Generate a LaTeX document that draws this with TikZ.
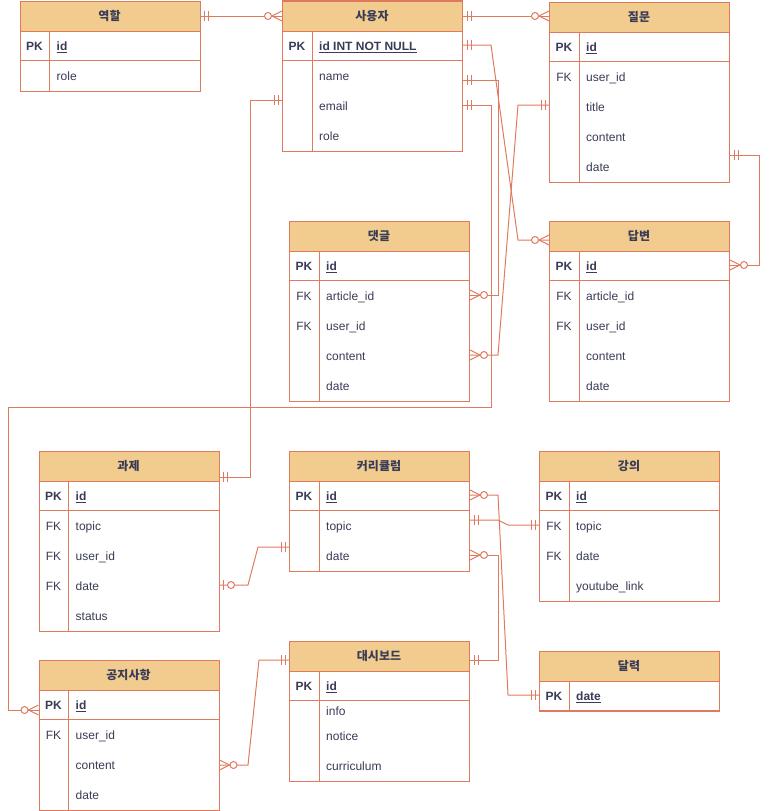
\documentclass[tikz,border=0pt]{standalone}
\usepackage{fontspec}
\setmainfont{Liberation Sans}
\newfontfamily\krfont{Noto Sans CJK KR}
\definecolor{erline}{HTML}{E07A5F}
\definecolor{erfill}{HTML}{F2CC8F}
\definecolor{ertext}{HTML}{393C56}
\newcommand\ertable[5]{%
  \node[bodybox, minimum height=#4pt] (#1) at (#2,#3) {};
  \node[hdr] (#1-h) at (#2,#3) {};
  \node[ttl] (#1-t) at (#2+90,#3+20) {#5};
  \draw[sepline] (#2,#3+60) -- (#2+180,#3+60);
  \draw[sepline] (#2+30,#3+30) -- (#2+30,#3+#4);
}
\newcommand\errow[5]{%
  \node[keytxt] (#1k) at (#2+15,#3+5) {#4};
  \node[fldtxt] (#1f) at (#2+37,#3+5) {#5};
}
\newcommand\pkid[1]{\textbf{\underline{#1}}}
\begin{document}
\begin{tikzpicture}[x=1pt,y=-1pt,
  hdr/.style={draw=erline, fill=erfill, line width=1pt, minimum width=180pt, minimum height=30pt, inner sep=0pt, anchor=north west},
  bodybox/.style={draw=erline, fill=white, line width=1pt, minimum width=180pt, inner sep=0pt, anchor=north west},
  ttl/.style={text=ertext, font=\krfont\bfseries\fontsize{12}{14}\selectfont, inner sep=0pt, anchor=base},
  keytxt/.style={text=ertext, font=\fontsize{12}{14}\selectfont, inner sep=0pt, anchor=base},
  fldtxt/.style={text=ertext, font=\fontsize{12}{14}\selectfont, inner sep=0pt, anchor=base west},
  sepline/.style={draw=erline, line width=1pt},
  conn/.style={draw=erline, line width=1pt},
  mone/.pic={\draw[conn] (4,-5)--(4,5) (8,-5)--(8,5);},
  zmany/.pic={\draw[conn] (0,-5)--(10,0)--(0,5); \draw[conn, fill=white] (14,0) circle (3.5pt);},
  zone/.pic={\draw[conn] (4,-5)--(4,5); \draw[conn, fill=white] (11.5,0) circle (3.5pt);}
]
\useasboundingbox (0,0) rectangle (769,811);

% ---------- tables ----------
\ertable{role}{19.5}{0.5}{90}{역할}
\errow{role1}{19.5}{45.5}{\textbf{PK}}{\pkid{id}}
\errow{role2}{19.5}{75.5}{}{role}

\ertable{user}{282}{0.5}{150}{사용자}
\errow{user1}{282}{45.5}{\textbf{PK}}{\pkid{id INT NOT NULL}}
\errow{user2}{282}{75.5}{}{name}
\errow{user3}{282}{105.5}{}{email}
\errow{user4}{282}{135.5}{}{role}

\ertable{question}{549}{1.5}{180}{질문}
\errow{question1}{549}{46.5}{\textbf{PK}}{\pkid{id}}
\errow{question2}{549}{76.5}{FK}{user\_id}
\errow{question3}{549}{106.5}{}{title}
\errow{question4}{549}{136.5}{}{content}
\errow{question5}{549}{166.5}{}{date}

\ertable{comment}{289}{220.5}{180}{댓글}
\errow{comment1}{289}{265.5}{\textbf{PK}}{\pkid{id}}
\errow{comment2}{289}{295.5}{FK}{article\_id}
\errow{comment3}{289}{325.5}{FK}{user\_id}
\errow{comment4}{289}{355.5}{}{content}
\errow{comment5}{289}{385.5}{}{date}

\ertable{answer}{549}{220.5}{180}{답변}
\errow{answer1}{549}{265.5}{\textbf{PK}}{\pkid{id}}
\errow{answer2}{549}{295.5}{FK}{article\_id}
\errow{answer3}{549}{325.5}{FK}{user\_id}
\errow{answer4}{549}{355.5}{}{content}
\errow{answer5}{549}{385.5}{}{date}

\ertable{task}{38.5}{450.5}{180}{과제}
\errow{task1}{38.5}{495.5}{\textbf{PK}}{\pkid{id}}
\errow{task2}{38.5}{525.5}{FK}{topic}
\errow{task3}{38.5}{555.5}{FK}{user\_id}
\errow{task4}{38.5}{585.5}{FK}{date}
\errow{task5}{38.5}{615.5}{}{status}

\ertable{curr}{289}{450.5}{120}{커리큘럼}
\errow{curr1}{289}{495.5}{\textbf{PK}}{\pkid{id}}
\errow{curr2}{289}{525.5}{}{topic}
\errow{curr3}{289}{555.5}{}{date}

\ertable{lecture}{539}{450.5}{150}{강의}
\errow{lecture1}{539}{495.5}{\textbf{PK}}{\pkid{id}}
\errow{lecture2}{539}{525.5}{FK}{topic}
\errow{lecture3}{539}{555.5}{FK}{date}
\errow{lecture4}{539}{585.5}{}{youtube\_link}

\ertable{cal}{539}{650.5}{60}{달력}
\errow{cal1}{539}{695.5}{\textbf{PK}}{\pkid{date}}

\ertable{dash}{289}{640.5}{140}{대시보드}
\errow{dash1}{289}{685.5}{\textbf{PK}}{\pkid{id}}
\errow{dash2}{289}{710}{}{info}
\errow{dash3}{289}{735}{}{notice}
\errow{dash4}{289}{765}{}{curriculum}

\ertable{notice}{38.5}{659.5}{150}{공지사항}
\errow{notice1}{38.5}{704.5}{\textbf{PK}}{\pkid{id}}
\errow{notice2}{38.5}{734.5}{FK}{user\_id}
\errow{notice3}{38.5}{764.5}{}{content}
\errow{notice4}{38.5}{794.5}{}{date}

% ---------- connector end points ----------
\coordinate (e1a) at (role-h.east);
\coordinate (e1b) at (user-h.west);
\coordinate (e2a) at (user-h.east);
\coordinate (e2b) at (user-h.east -| question-h.west);
\coordinate (e3a) at (user.east |- 0,45);
\coordinate (e3b) at (answer.west |- 0,240);
\coordinate (e4a) at (user.east |- 0,80);
\coordinate (e4b) at (comment.east |- 0,295);
\coordinate (e5a) at (user.east |- 0,105);
\coordinate (e5b) at (notice.west |- 0,710);
\coordinate (e6a) at (question.west |- 0,105);
\coordinate (e6b) at (comment.east |- 0,355);
\coordinate (e7a) at (question.east |- 0,155);
\coordinate (e7b) at (answer.east |- 0,265);
\coordinate (e8a) at (user.west |- 0,100);
\coordinate (e8b) at (task.east |- 0,477);
\coordinate (e9a) at (task.east |- 0,585);
\coordinate (e9b) at (curr.west |- 0,547);
\coordinate (e10a) at (curr.east |- 0,495);
\coordinate (e10b) at (cal.west |- 0,695);
\coordinate (e11a) at (curr.east |- 0,520);
\coordinate (e11b) at (lecture.west |- 0,525);
\coordinate (e12a) at (curr.east |- 0,555);
\coordinate (e12b) at (dash.east |- 0,660);
\coordinate (e13a) at (notice.east |- 0,765);
\coordinate (e13b) at (dash.west |- 0,660);

% ---------- connectors ----------
\draw[conn] (e1a) -- (e1b);
\draw[conn] (e2a) -- (e2b);
\draw[conn] (e3a) -- (491,45) -- (518,240) -- (e3b);
\draw[conn] (e4a) -- (498,80) -- (498,295) -- (e4b);
\draw[conn] (e5a) -- (491,105) -- (491,407) -- (8,407) -- (8,710) -- (e5b);
\draw[conn] (e6a) -- (518,105) -- (498,355) -- (e6b);
\draw[conn] (e7a) -- (759,155) -- (759,265) -- (e7b);
\draw[conn] (e8a) -- (250,100) -- (250,477) -- (e8b);
\draw[conn] (e9a) -- (248,585) -- (258,547) -- (e9b);
\draw[conn] (e10a) -- (498,495) -- (508,695) -- (e10b);
\draw[conn] (e11a) -- (498,520) -- (508,525) -- (e11b);
\draw[conn] (e12a) -- (498,555) -- (498,660) -- (e12b);
\draw[conn] (e13a) -- (248,765) -- (259,660) -- (e13b);

% ---------- cardinality marks ----------
\pic at (e1a) {mone};            \pic[rotate=180] at (e1b) {zmany};
\pic at (e2a) {mone};            \pic[rotate=180] at (e2b) {zmany};
\pic at (e3a) {mone};            \pic[rotate=180] at (e3b) {zmany};
\pic at (e4a) {mone};            \pic at (e4b) {zmany};
\pic at (e5a) {mone};            \pic[rotate=180] at (e5b) {zmany};
\pic[rotate=180] at (e6a) {mone}; \pic at (e6b) {zmany};
\pic at (e7a) {mone};            \pic at (e7b) {zmany};
\pic[rotate=180] at (e8a) {mone}; \pic at (e8b) {mone};
\pic at (e9a) {zone};            \pic[rotate=180] at (e9b) {mone};
\pic at (e10a) {zmany};          \pic[rotate=180] at (e10b) {mone};
\pic at (e11a) {mone};           \pic[rotate=180] at (e11b) {mone};
\pic at (e12a) {zmany};          \pic at (e12b) {mone};
\pic at (e13a) {zmany};          \pic[rotate=180] at (e13b) {mone};
\end{tikzpicture}
\end{document}
